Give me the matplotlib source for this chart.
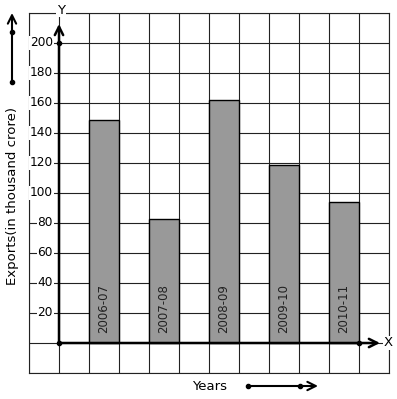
import matplotlib
matplotlib.use("Agg")
import matplotlib.pyplot as plt

years = ["2006-07", "2007-08", "2008-09", "2009-10", "2010-11"]
exports = [149, 83, 162, 119, 94]
ytick_vals = [20, 40, 60, 80, 100, 120, 140, 160, 180, 200]

W, H = 397, 399
fig = plt.figure(figsize=(W / 100, H / 100), dpi=100)
ax = fig.add_axes([29 / W, 26 / H, 360 / W, 360 / H])
ax.set_xlim(-1, 11)
ax.set_ylim(-20, 220)

# square grid
ax.set_xticks(range(-1, 12))
ax.set_yticks(range(-20, 221, 20))
ax.tick_params(length=0, labelbottom=False, labelleft=False)
ax.grid(True, color="#222222", linewidth=0.8)
ax.set_axisbelow(True)
for sp in ax.spines.values():
    sp.set_color("#222222")
    sp.set_linewidth(0.8)

# bars
xs = [1.5 + 2 * i for i in range(len(years))]
ax.bar(xs, exports, width=1, color="#999999", edgecolor="black", linewidth=1, zorder=2)
for x, lab in zip(xs, years):
    ax.text(x, 6.5, lab, rotation=90, ha="center", va="bottom",
            fontsize=8.5, color="#222222", zorder=3)

# y tick labels with white background
for v in ytick_vals:
    ax.text(-0.2, v, str(v), ha="right", va="center", fontsize=8.7,
            bbox=dict(facecolor="white", edgecolor="none", pad=0.6), zorder=3)

# axes with arrows
arrow = dict(arrowstyle="->,head_length=0.6,head_width=0.3", lw=1.8, color="black",
             shrinkA=0, shrinkB=0)
ax.annotate("", xy=(0, 212.7), xytext=(0, 0), arrowprops=arrow, zorder=4,
            annotation_clip=False)
ax.annotate("", xy=(10.7, 0), xytext=(0, 0), arrowprops=arrow, zorder=4,
            annotation_clip=False)
ax.plot([0, 0, 10], [0, 200, 0], "o", color="black", markersize=3, zorder=5,
        linestyle="none", clip_on=False)
ax.text(10.97, 0, "X", ha="center", va="center", fontsize=9.5,
        bbox=dict(facecolor="white", edgecolor="none", pad=0.5), zorder=4)
ax.text(0.07, 222, "Y", ha="center", va="center", fontsize=9.5, clip_on=False,
        bbox=dict(facecolor="white", edgecolor="none", pad=0.5), zorder=4)

# outer labels
fig.text(12.5 / W, 1 - 196 / H, "Exports(in thousand crore)", rotation=90,
         ha="center", va="center", fontsize=9.5)
fig.text(210 / W, 13 / H, "Years", ha="center", va="center", fontsize=9.5)

arrow2 = dict(arrowstyle="->,head_length=0.6,head_width=0.3", lw=1.5, color="black",
              shrinkA=0, shrinkB=0)
ax.annotate("", xy=(12, H - 13), xytext=(12, H - 82), xycoords="figure pixels",
            textcoords="figure pixels", arrowprops=arrow2, annotation_clip=False)
ax.annotate("", xy=(318, 13), xytext=(248, 13), xycoords="figure pixels",
            textcoords="figure pixels", arrowprops=arrow2, annotation_clip=False)
fig.add_artist(plt.Line2D([12 / W, 12 / W, 248 / W, 300 / W],
                          [1 - 32 / H, 1 - 82 / H, 13 / H, 13 / H],
                          marker="o", markersize=3, color="black", linestyle="none"))

fig.savefig("out.png", dpi=100, facecolor="white")
